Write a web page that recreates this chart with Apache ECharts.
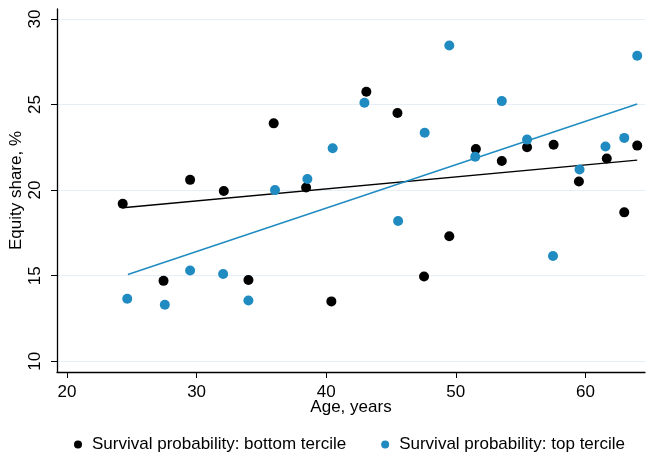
<!DOCTYPE html>
<html>
<head>
<meta charset="utf-8">
<script src="https://cdn.jsdelivr.net/npm/echarts@6/dist/echarts.min.js"></script>
<style>
  html, body { margin: 0; padding: 0; background: #fff; }
  #chart { width: 646px; height: 458px; }
</style>
</head>
<body>
<div id="chart"></div>
<script>
// Age-group midpoints and mean equity shares (%) by survival-probability tercile
const agesBottom = [24.3, 27.45, 29.5, 32.1, 34.0, 35.95, 38.45, 40.4, 43.1, 45.5, 47.55, 49.5, 51.55, 53.55, 55.5, 57.55, 59.5, 61.65, 63.0, 64.0];
const shareBottom = [19.2, 14.7, 20.6, 19.95, 14.75, 23.9, 20.15, 13.5, 25.75, 24.5, 14.95, 17.3, 22.4, 21.7, 22.5, 22.65, 20.5, 21.85, 18.7, 22.6];

const agesTop = [24.65, 27.55, 29.5, 32.05, 34.0, 36.05, 38.55, 40.5, 42.95, 45.55, 47.6, 49.5, 51.5, 53.55, 55.5, 57.5, 59.55, 61.55, 63.0, 64.0];
const shareTop = [13.65, 13.3, 15.3, 15.1, 13.55, 20.0, 20.65, 22.45, 25.1, 18.2, 23.35, 28.45, 21.95, 25.2, 22.95, 16.15, 21.2, 22.55, 23.05, 27.85];

// Linear fit endpoints for each tercile
const fitBottomX = [24.3, 64.0];
const fitBottomY = [18.97, 21.75];
const fitTopX = [24.7, 64.0];
const fitTopY = [15.07, 25.03];

const xTicks = [20, 30, 40, 50, 60];
const yTicks = [10, 15, 20, 25, 30];

const seriesNames = ['Survival probability: bottom tercile', 'Survival probability: top tercile'];
const colBottom = '#000000';
const colTop = '#1f8bc0';

const zip = (xs, ys) => xs.map((x, i) => [x, ys[i]]);

const chart = echarts.init(document.getElementById('chart'));
const font = 'Liberation Sans, Arial, sans-serif';

chart.setOption({
  animation: false,
  backgroundColor: '#ffffff',
  textStyle: { fontFamily: font },
  grid: { left: 57, right: 1, top: 9, bottom: 86, containLabel: false, outerBoundsMode: 'none' },
  legend: {
    data: seriesNames.map(n => ({ name: n, icon: 'circle' })),
    top: 436,
    left: 74,
    padding: 0,
    itemWidth: 8,
    itemHeight: 8,
    itemGap: 35,
    textStyle: { fontFamily: font, fontSize: 17, color: '#000', padding: [0, 0, 0, 5] }
  },
  xAxis: {
    type: 'value',
    min: 19.23,
    max: 64.6,
    name: 'Age, years',
    nameLocation: 'middle',
    nameGap: 27,
    nameMoveOverlap: false,
    nameTextStyle: { fontFamily: font, fontSize: 17, color: '#000' },
    axisLine: { show: true, onZero: false, lineStyle: { color: '#000', width: 1.3 } },
    axisTick: { show: true, length: 6, customValues: xTicks, lineStyle: { color: '#000', width: 1 } },
    axisLabel: { customValues: xTicks, fontSize: 17, color: '#000', margin: 12 },
    splitLine: { show: false }
  },
  yAxis: {
    type: 'value',
    min: 9.375,
    max: 30.58,
    name: 'Equity share, %',
    nameLocation: 'middle',
    nameGap: 32,
    nameMoveOverlap: false,
    nameRotate: 90,
    nameTextStyle: { fontFamily: font, fontSize: 17, color: '#000' },
    axisLine: { show: true, onZero: false, lineStyle: { color: '#000', width: 1.3 } },
    axisTick: { show: true, length: 6, customValues: yTicks, lineStyle: { color: '#000', width: 1 } },
    axisLabel: { customValues: yTicks, rotate: 90, fontSize: 17, color: '#000', margin: 13 },
    splitLine: { show: true, lineStyle: { color: '#e6eff5', width: 1.2 } }
  },
  series: [
    {
      name: seriesNames[0],
      type: 'scatter',
      data: zip(agesBottom, shareBottom),
      symbolSize: 10,
      itemStyle: { color: colBottom, opacity: 1 },
      z: 3
    },
    {
      name: seriesNames[1],
      type: 'scatter',
      data: zip(agesTop, shareTop),
      symbolSize: 10,
      itemStyle: { color: colTop, opacity: 1 },
      z: 3
    },
    {
      name: 'fitBottom',
      type: 'line',
      data: zip(fitBottomX, fitBottomY),
      showSymbol: false,
      symbol: 'none',
      lineStyle: { color: colBottom, width: 1.4 },
      z: 2
    },
    {
      name: 'fitTop',
      type: 'line',
      data: zip(fitTopX, fitTopY),
      showSymbol: false,
      symbol: 'none',
      lineStyle: { color: colTop, width: 1.4 },
      z: 2
    }
  ]
});
</script>
</body>
</html>
